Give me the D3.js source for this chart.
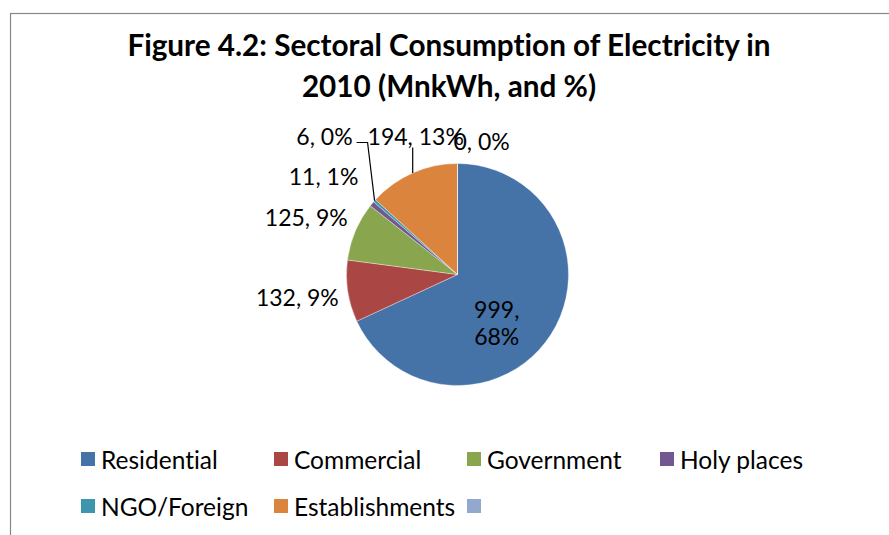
<!DOCTYPE html>
<html>
<head>
<meta charset="utf-8">
<script src="https://cdn.jsdelivr.net/npm/d3@7"></script>
<style>
  html, body { margin: 0; padding: 0; background: #fff; }
  svg { display: block; }
  text { font-family: Lato, "Noto Sans", sans-serif; fill: #000; font-variant-ligatures: none; font-feature-settings: "liga" 0, "clig" 0; }
</style>
</head>
<body>
<svg id="chart" width="889" height="535"></svg>
<script>
// Electricity consumption by sector, 2010 (MnkWh)
const sectors = ["Residential", "Commercial", "Government", "Holy places", "NGO/Foreign", "Establishments", ""];
const consumption = [999, 132, 125, 11, 6, 194, 0];
const sectorColors = ["#4572A7", "#AA4643", "#89A54E", "#71588F", "#3D96AE", "#DB843D", "#92A8CD"];
const titleLines = ["Figure 4.2: Sectoral Consumption of Electricity in", "2010 (MnkWh, and %)"];

const W = 889, H = 535;
const cx = 457.5, cy = 274.5, R = 111;

const svg = d3.select("#chart");

// chart frame (top and left edges visible)
svg.append("rect")
  .attr("x", 10.5).attr("y", 13.5)
  .attr("width", 1000).attr("height", 1000)
  .attr("fill", "none").attr("stroke", "#878787").attr("stroke-width", 1.2);

// title
svg.append("g").selectAll("text")
  .data(titleLines).join("text")
  .attr("x", 449)
  .attr("y", (d, i) => 56 + i * 41)
  .attr("text-anchor", "middle")
  .attr("font-size", 29.7)
  .attr("font-weight", "bold")
  .text(d => d);

const data = sectors.map((s, i) => ({ sector: s, value: consumption[i], color: sectorColors[i] }));
const total = d3.sum(consumption);
const pct = d3.format(".0%");

const pie = d3.pie().sort(null).value(d => d.value);
const arcs = pie(data);
const arc = d3.arc().innerRadius(0).outerRadius(R);

const g = svg.append("g").attr("transform", `translate(${cx},${cy})`);

g.selectAll("path.slice")
  .data(arcs).join("path")
  .attr("class", "slice")
  .attr("d", arc)
  .attr("fill", d => d.data.color)
  .attr("stroke", "#ffffff")
  .attr("stroke-opacity", 0.6)
  .attr("stroke-width", 0.6);

// label placement: polar distance from centre along the slice's mid angle, plus nudge
const polar = (a, r) => [Math.sin(a) * r, -Math.cos(a) * r];
const labelLayout = [
  { r: 62, dx: -13, dy: 10, inside: true },
  { r: 162, dx: 0, dy: -2 },
  { r: 162, dx: -2, dy: 5 },
  { r: 166, dx: -6, dy: 7 },
  { r: 0, dx: 0, dy: 0, leader: "elbow" },
  { r: 0, dx: 0, dy: 0, leader: "vertical" },
  { r: 0, dx: 0, dy: 0, top: true }
];

const labelG = g.append("g").attr("font-size", 23);
const leaderG = g.append("g").attr("fill", "none").attr("stroke", "#000").attr("stroke-width", 1.2);

arcs.forEach((d, i) => {
  const mid = (d.startAngle + d.endAngle) / 2;
  const L = labelLayout[i];
  const valTxt = d.data.value + ", " + pct(d.data.value / total);
  const edge = polar(mid, R);
  if (L.inside) {
    const [x, y] = polar(mid, L.r);
    const t = labelG.append("text").attr("text-anchor", "middle")
      .attr("x", x + L.dx).attr("y", y + L.dy);
    t.append("tspan").attr("x", x + L.dx).attr("dy", 0).text(d.data.value + ",");
    t.append("tspan").attr("x", x + L.dx).attr("dy", 27).text(pct(d.data.value / total));
  } else if (L.leader === "elbow") {
    // label sits up-left, line runs horizontally then down to the slice edge
    const ly = -132;
    const lx2 = edge[0] - 7;
    leaderG.append("path").attr("d", `M${lx2 - 11},${ly} H${lx2} L${edge[0]},${edge[1]}`);
    labelG.append("text").attr("text-anchor", "end").attr("dominant-baseline", "central")
      .attr("x", lx2 - 15).attr("y", ly - 7).text(valTxt);
  } else if (L.leader === "vertical") {
    const ly = -127;
    leaderG.append("path").attr("d", `M${edge[0]},${ly} V${edge[1]}`);
    labelG.append("text").attr("text-anchor", "middle")
      .attr("x", edge[0] + 3).attr("y", ly - 3).text(valTxt);
  } else if (L.top) {
    labelG.append("text").attr("text-anchor", "start").attr("dominant-baseline", "central")
      .attr("x", edge[0] - 4).attr("y", edge[1] - 23).text(valTxt);
  } else {
    const [x, y] = polar(mid, L.r);
    labelG.append("text").attr("text-anchor", "middle").attr("dominant-baseline", "central")
      .attr("x", x + L.dx).attr("y", y + L.dy).text(valTxt);
  }
});

// legend: four entries per row
const legendCols = [81, 274, 467, 660];
const legendRows = [452, 499];
const leg = svg.append("g").selectAll("g")
  .data(data).join("g")
  .attr("transform", (d, i) => `translate(${legendCols[i % 4]},${legendRows[Math.floor(i / 4)]})`);
leg.append("rect").attr("width", 14).attr("height", 14).attr("fill", d => d.color);
leg.append("text")
  .attr("x", 20).attr("y", 7)
  .attr("dominant-baseline", "central")
  .attr("font-size", 24.5)
  .text(d => d.sector);
</script>
</body>
</html>
